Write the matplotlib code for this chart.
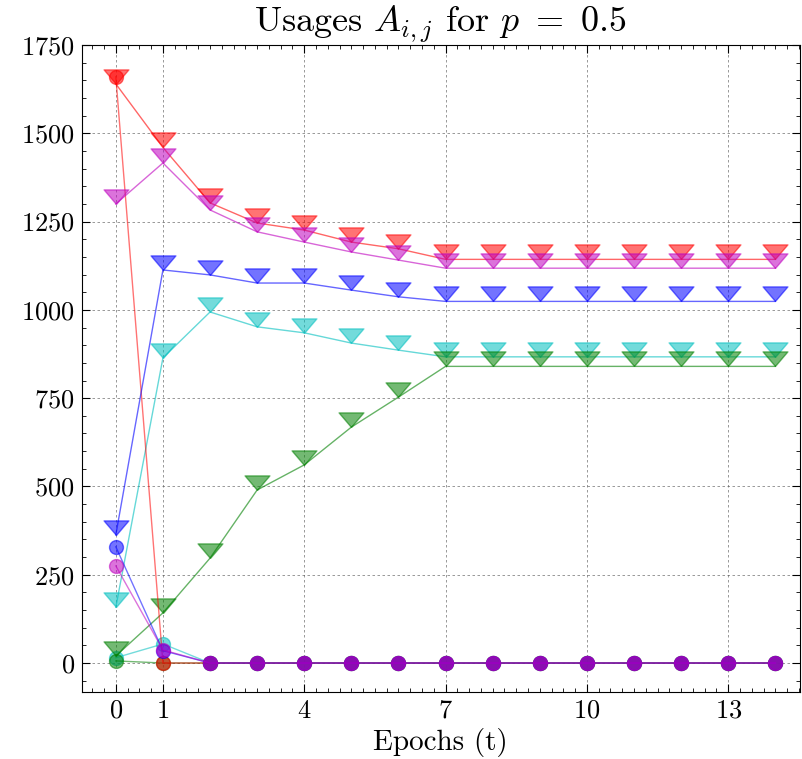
import matplotlib
matplotlib.use("Agg")
import matplotlib.pyplot as plt
from matplotlib.ticker import MultipleLocator, FixedLocator

plt.rcParams["font.family"] = "serif"
plt.rcParams["font.serif"] = ["cmr10", "DejaVu Serif"]
plt.rcParams["mathtext.fontset"] = "cm"
plt.rcParams["axes.formatter.use_mathtext"] = True

# dados
epocas = [0, 1, 2, 3, 4, 5, 6, 7, 8, 9, 10, 11, 12, 13, 14]

tri_ciano = [158, 864, 994, 952, 935, 906, 886, 867, 867, 867, 867, 867, 867, 867, 867]
tri_verde = [20, 142, 297, 490, 561, 668, 753, 840, 840, 840, 840, 840, 840, 840, 840]
tri_vermelho = [1640, 1460, 1303, 1246, 1226, 1192, 1173, 1143, 1143, 1143, 1143, 1143, 1143, 1143, 1143]
tri_azul = [363, 1113, 1099, 1076, 1076, 1056, 1037, 1024, 1024, 1024, 1024, 1024, 1024, 1024, 1024]
tri_magenta = [1300, 1416, 1283, 1221, 1192, 1164, 1141, 1118, 1118, 1118, 1118, 1118, 1118, 1118, 1118]

circ_ciano = [15, 54, 0, 0, 0, 0, 0, 0, 0, 0, 0, 0, 0, 0, 0]
circ_verde = [6, 0, 0, 0, 0, 0, 0, 0, 0, 0, 0, 0, 0, 0, 0]
circ_vermelho = [1660, 0, 0, 0, 0, 0, 0, 0, 0, 0, 0, 0, 0, 0, 0]
circ_azul = [329, 35, 0, 0, 0, 0, 0, 0, 0, 0, 0, 0, 0, 0, 0]
circ_magenta = [275, 37, 0, 0, 0, 0, 0, 0, 0, 0, 0, 0, 0, 0, 0]

cores = ["c", "g", "r", "b", "m"]
series_tri = [tri_ciano, tri_verde, tri_vermelho, tri_azul, tri_magenta]
series_circ = [circ_ciano, circ_verde, circ_vermelho, circ_azul, circ_magenta]

xticks = [0, 1, 4, 7, 10, 13]
yticks = [0, 250, 500, 750, 1000, 1250, 1500, 1750]

# triangulo com a ponta no ponto
triangulo = [(0, 0), (-0.85, 1), (0.85, 1), (0, 0)]

fig = plt.figure(figsize=(8.03, 7.59), dpi=100)
ax = fig.add_axes([0.102, 0.0883, 0.894, 0.8524])

for cor, tri, circ in zip(cores, series_tri, series_circ):
    ax.plot(epocas, tri, color=cor, lw=1.0, alpha=0.6)
    ax.plot(epocas, tri, linestyle="none", marker=triangulo, markersize=21,
            color=cor, alpha=0.55)
    ax.plot(epocas, circ, color=cor, lw=1.0, alpha=0.55, marker="o",
            markersize=10)

ax.set_xlim(-0.72, 14.52)
ax.set_ylim(-82, 1750)
ax.xaxis.set_major_locator(FixedLocator(xticks))
ax.yaxis.set_major_locator(FixedLocator(yticks))
ax.xaxis.set_minor_locator(MultipleLocator(0.25))
ax.yaxis.set_minor_locator(MultipleLocator(50))
ax.tick_params(which="both", direction="in", top=True, right=True, labelsize=19)
ax.tick_params(which="major", length=6, width=0.8, pad=5)
ax.tick_params(which="minor", length=3, width=0.6)
ax.grid(True, which="major", color="#555555", linestyle=(0, (3, 3)), lw=0.6, alpha=0.7)

ax.set_title(r"Usages $A_{i,j}$ for $p\ =\ 0.5$", fontsize=26, pad=5)
ax.set_xlabel("Epochs (t)", fontsize=21, labelpad=4)

fig.savefig("out.png", dpi=100)
